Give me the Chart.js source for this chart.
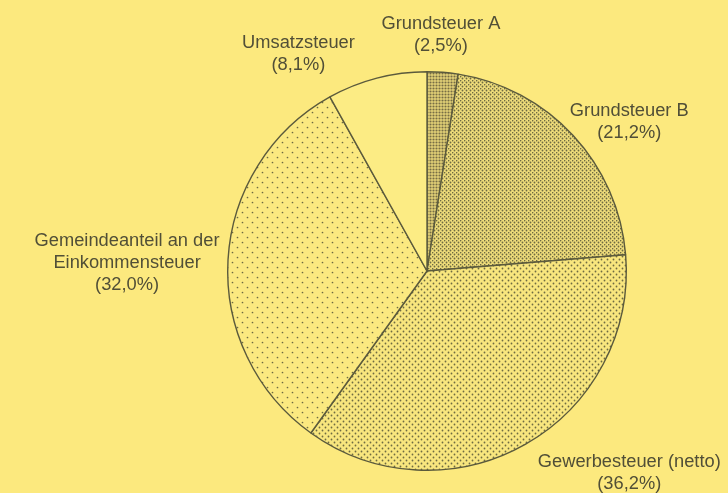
<!DOCTYPE html>
<html>
<head>
<meta charset="utf-8">
<script src="https://cdn.jsdelivr.net/npm/chart.js@4/dist/chart.umd.min.js"></script>
<style>
  html, body { margin: 0; padding: 0; background: #fce97e; }
  #wrap { width: 728px; height: 493px; }
</style>
</head>
<body>
<div id="wrap"><canvas id="c" width="728" height="493"></canvas></div>
<script>
// Data
const categories = ["Grundsteuer A", "Grundsteuer B", "Gewerbesteuer (netto)", "Gemeindeanteil an der Einkommensteuer", "Umsatzsteuer"];
const shares = [2.5, 21.2, 36.2, 32.0, 8.1];
const labelLines = [
  ["Grundsteuer A", "(2,5%)"],
  ["Grundsteuer B", "(21,2%)"],
  ["Gewerbesteuer (netto)", "(36,2%)"],
  ["Gemeindeanteil an der", "Einkommensteuer", "(32,0%)"],
  ["Umsatzsteuer", "(8,1%)"]
];

const DOT = '#6e6b42';

function makePattern(w, h, bg, dots, r, color) {
  const t = document.createElement('canvas');
  t.width = w; t.height = h;
  const g = t.getContext('2d');
  g.fillStyle = bg; g.fillRect(0, 0, w, h);
  g.fillStyle = color;
  dots.forEach(([x, y]) => { g.beginPath(); g.arc(x, y, r, 0, Math.PI * 2); g.fill(); });
  return document.getElementById('c').getContext('2d').createPattern(t, 'repeat');
}

const fills = [
  makePattern(3, 3, '#e2d076', [[1.5, 1.5]], 1.05, '#766e45'),
  makePattern(4, 4, '#eedc7a', [[0.5, 0.5], [2.5, 2.5]], 0.9, DOT),
  makePattern(6, 6, '#f8e67e', [[1.5, 1.5], [4.5, 4.5]], 0.9, DOT),
  makePattern(10, 10, '#fbe980', [[2.5, 2.5], [7.5, 7.5]], 0.85, DOT),
  '#fcec84'
];

// label anchor (centre of first line) relative to pie centre, in units of radius
const labelPos = [
  [0.07, -1.24],
  [1.015, -0.805],
  [1.015, 0.96],
  [-1.505, -0.15],
  [-0.645, -1.145]
];

const labelPlugin = {
  id: 'sliceLabels',
  afterDraw(chart) {
    const arc = chart.getDatasetMeta(0).data[0];
    const cx = arc.x, cy = arc.y, R = arc.outerRadius;
    const ctx = chart.ctx;
    ctx.save();
    ctx.fillStyle = '#514f37';
    ctx.font = '18.3px "Liberation Sans", Arial, sans-serif';
    ctx.textAlign = 'center';
    ctx.textBaseline = 'middle';
    labelLines.forEach((lines, i) => {
      const x = cx + labelPos[i][0] * R;
      const y = cy + labelPos[i][1] * R;
      lines.forEach((ln, k) => ctx.fillText(ln, x, y + k * 22));
    });
    ctx.restore();
  }
};

new Chart(document.getElementById('c'), {
  type: 'pie',
  data: {
    labels: categories,
    datasets: [{
      data: shares,
      backgroundColor: fills,
      borderColor: '#5b5a3c',
      borderWidth: 1.4,
      borderAlign: 'center'
    }]
  },
  options: {
    responsive: false,
    animation: false,
    layout: { padding: { left: 227, right: 101, top: 70, bottom: 21 } },
    plugins: { legend: { display: false }, tooltip: { enabled: false } }
  },
  plugins: [labelPlugin]
});
</script>
</body>
</html>
